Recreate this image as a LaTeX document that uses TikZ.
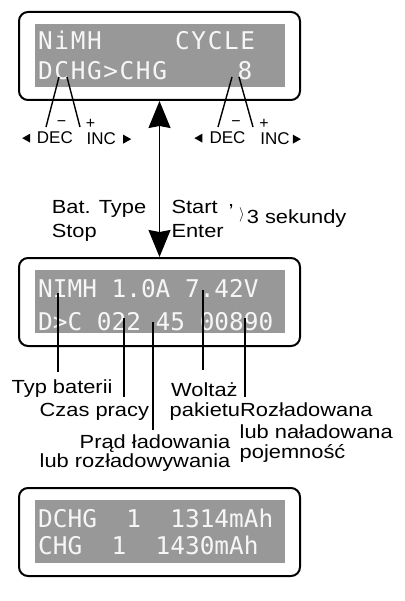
\documentclass[tikz,border=0pt]{standalone}
\usepackage{fontspec}
\setsansfont[FakeStretch=1.15]{Liberation Sans}
\newfontfamily\keyfont{Liberation Sans}
\newfontfamily\lcdfont{DejaVu Sans Mono}
\newfontfamily\lcdwide[LetterSpace=6.6]{DejaVu Sans Mono}
\usetikzlibrary{arrows.meta, positioning, calc}
\usepackage{xcolor}
\definecolor{lcdGray}{RGB}{152,152,152}
\definecolor{lcdText}{RGB}{246,246,246}
\tikzset{
    font=\sffamily,
    >=Stealth,
    % Panels
    panel/.style={rectangle, draw=black, line width=2pt, rounded corners=9pt,
                  minimum width=281pt, minimum height=88pt, inner sep=0pt},
    lcdScreen/.style={rectangle, fill=lcdGray, minimum width=250pt,
                      minimum height=63pt, inner sep=0pt},
    lcd/.style={anchor=base west, inner sep=0pt, text=lcdText,
                font=\lcdfont\fontsize{24.4}{24.4}\selectfont},
    lcdW/.style={lcd, font=\lcdwide\fontsize{24.4}{24.4}\selectfont},
    % Labels
    lbl/.style={anchor=base west, inner sep=0pt, font=\sffamily\fontsize{19}{21}\selectfont},
    keylbl/.style={anchor=base west, inner sep=0pt, font=\keyfont\fontsize{17}{19}\selectfont},
    sgn/.style={inner sep=0pt, font=\keyfont\fontsize{16}{16}\selectfont},
    % Lines
    wire/.style={line width=1.4pt},
    flow/.style={<->, line width=1.5pt, >={Stealth[length=27pt, width=22pt, inset=2pt]}},
    tri/.style={fill=black}
}

\begin{document}
\begin{tikzpicture}[x=1pt, y=-1pt]
\useasboundingbox (0,0) rectangle (404,601);

% Panels
\node[panel] (p1) at (159.5,56) {};
\node[panel] (p2) at (159.5,302) {};
\node[panel] (p3) at (159.5,532) {};
\node[lcdScreen] (s1) at (160,56) {};
\node[lcdScreen] (s2) at (160,301.5) {};
\node[lcdScreen] (s3) at (160,531.5) {};

% Display texts
\node[lcdW] (t1a) at (38,50) {NiMH};
\node[lcdW] (t1b) at (175,50) {CYCLE};
\node[lcdW] (t1c) at (38,80) {DCHG>CHG};
\node[lcdW] (t1d) at (237.5,80) {8};
\node[lcd] (t2a) at (38,297) {NIMH 1.0A 7.42V};
\node[lcd] (t2b) at (38,330) {D>C 022 45 00890};
\node[lcd] (t3a) at (38,527) {DCHG~~1~~1314mAh};
\node[lcd] (t3b) at (38,554) {CHG~~1~~1430mAh};

% Keys
\node[keylbl] (decL) at (36.7,144) {DEC};
\node[keylbl] (incL) at (86.5,145) {INC};
\node[keylbl] (decR) at (209.4,144) {DEC};
\node[keylbl] (incR) at (260.2,145) {INC};
\node[sgn] (mL) at (61.5,124) {−};
\node[sgn] (pL) at (90.5,124) {+};
\node[sgn] (mR) at (236,124) {−};
\node[sgn] (pR) at (264,124) {+};
\fill[tri] ($(decL.west)+(-6.5,0)$) -- ++(0,-4.5) -- ++(-8,4.5) -- ++(8,4.5) -- cycle;
\fill[tri] ($(incL.east)+(7,0)$) -- ++(0,-4.5) -- ++(8,4.5) -- ++(-8,4.5) -- cycle;
\fill[tri] ($(decR.west)+(-7,0)$) -- ++(0,-4.5) -- ++(-8,4.5) -- ++(8,4.5) -- cycle;
\fill[tri] ($(incR.east)+(3,0)$) -- ++(0,-4.5) -- ++(8,4.5) -- ++(-8,4.5) -- cycle;

\coordinate (aL1) at (59,77);  \coordinate (bL1) at (46,127);
\coordinate (aL2) at (67,77);  \coordinate (bL2) at (80,127);
\coordinate (aR1) at (232,77); \coordinate (bR1) at (218,127);
\coordinate (aR2) at (239,77); \coordinate (bR2) at (253,127);
\draw[wire] (aL1) -- (bL1);
\draw[wire] (aL2) -- (bL2);
\draw[wire] (aR1) -- (bR1);
\draw[wire] (aR2) -- (bR2);

% Mode switch
\draw[flow] (p1.south) -- (p2.north);
\node[lbl] (bat) at (51.6,214) {Bat. Type};
\node[lbl] (stop) at (51.6,237.5) {Stop};
\node[lbl] (start) at (171.3,214) {Start};
\node[lbl] (comma) at (228,207) {,};
\node[lbl] (enter) at (171.3,237.5) {Enter};
\node[lbl] (sek) at (239,224) {\raisebox{5pt}{\fontsize{14}{14}\selectfont$\rangle$}\kern2pt 3 sekundy};

% Field labels
\coordinate (u1) at (58,293);  \coordinate (d1) at (58,372);
\coordinate (u2) at (124,318); \coordinate (d2) at (124,397);
\coordinate (u3) at (153,322); \coordinate (d3) at (153,430);
\coordinate (u4) at (203,290); \coordinate (d4) at (203,370);
\coordinate (u5) at (245,318); \coordinate (d5) at (245,397);
\draw[wire] (u1) -- (d1);
\draw[wire] (u2) -- (d2);
\draw[wire] (u3) -- (d3);
\draw[wire] (u4) -- (d4);
\draw[wire] (u5) -- (d5);

\node[lbl] (typ) at (11.5,393) {Typ baterii};
\node[lbl] (czas) at (39.5,416.5) {Czas pracy};
\node[lbl] (prad) at (79.5,448) {Prąd ładowania};
\node[lbl] (prad2) at (39.5,467.5) {lub rozładowywania};
\node[lbl] (wolt) at (171,396.5) {Woltaż};
\node[lbl] (wolt2) at (169.5,416.5) {pakietu};
\node[lbl] (rozl) at (240,416.5) {Rozładowana};
\node[lbl] (rozl2) at (239.5,438) {lub naładowana};
\node[lbl] (rozl3) at (239.5,458) {pojemność};

\end{tikzpicture}
\end{document}
